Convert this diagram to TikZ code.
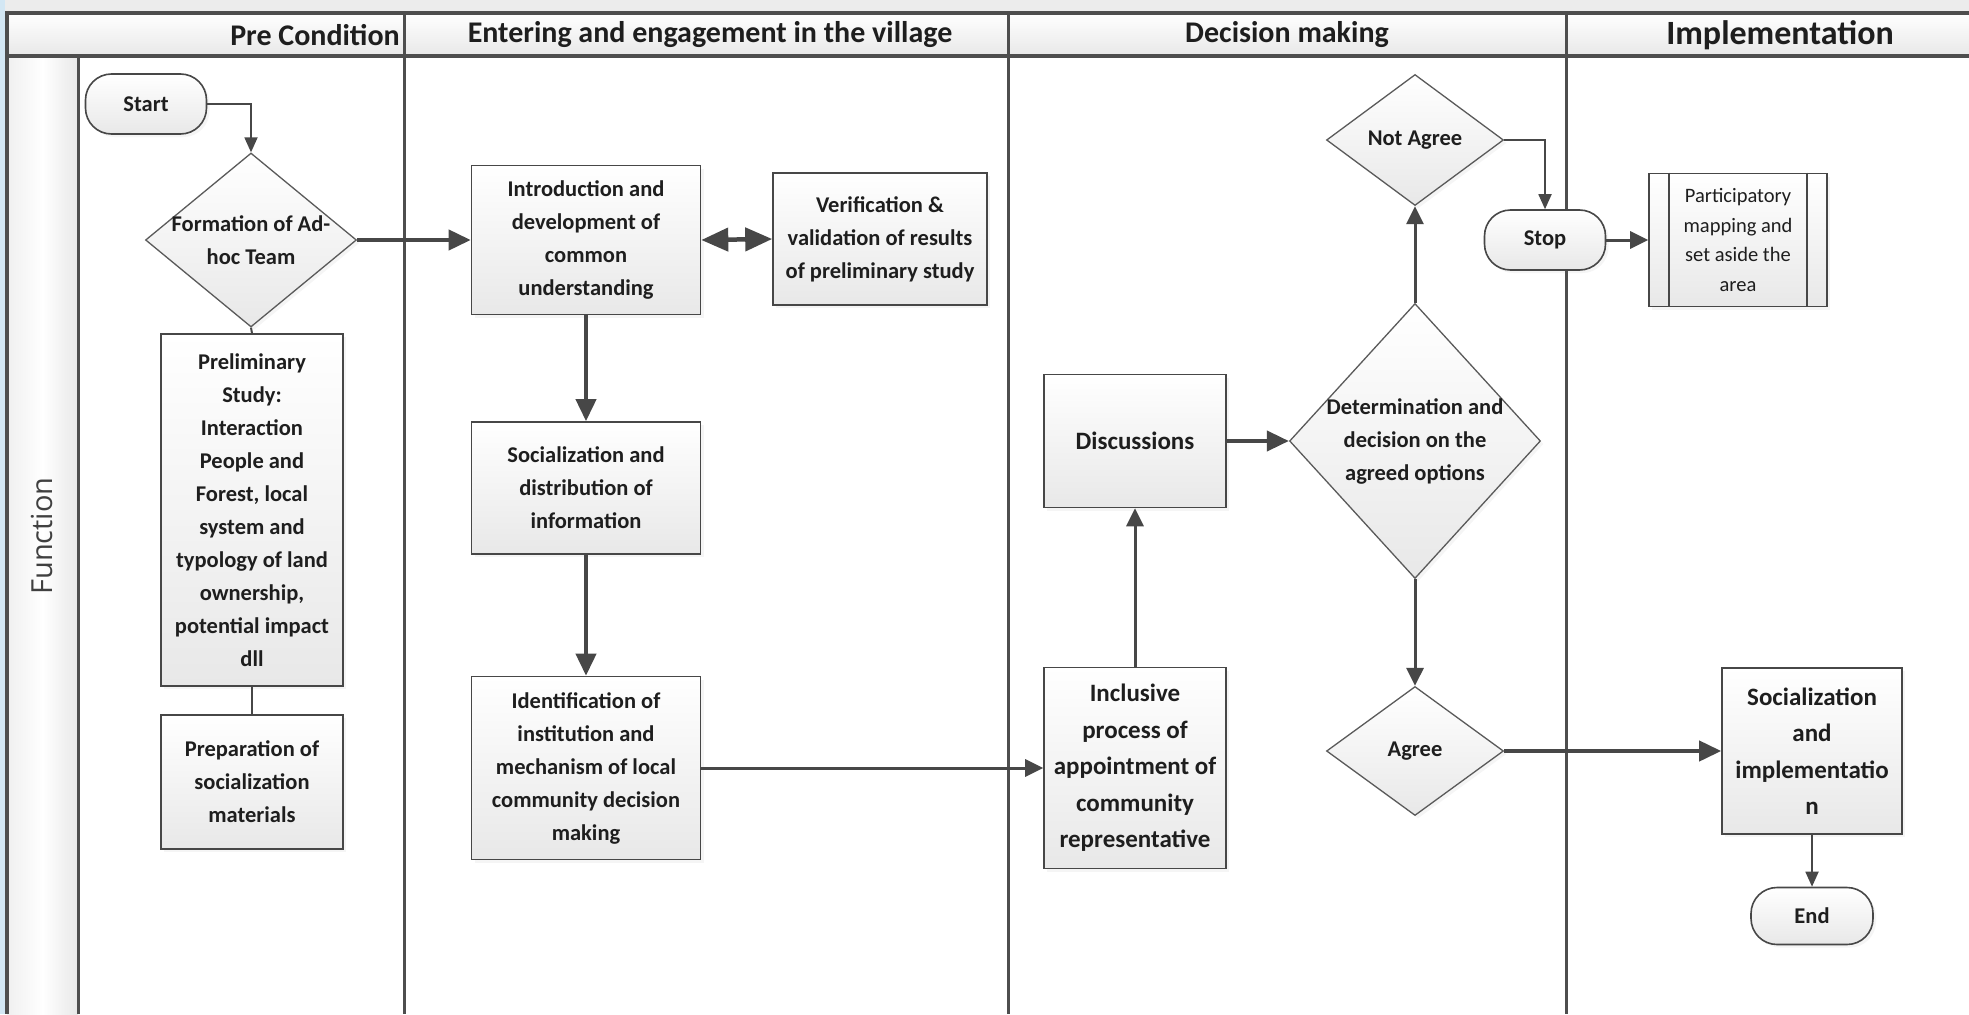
\documentclass[tikz,border=0pt]{standalone}
\usepackage{fontspec}
\setmainfont{Carlito}
\newfontfamily\lanefont{Open Sans}
\usetikzlibrary{shapes.geometric,arrows.meta,shadows}

\definecolor{ink}{HTML}{1E1E1E}
\definecolor{edge}{HTML}{474747}
\definecolor{dedge}{HTML}{5A5A5A}
\definecolor{lane}{HTML}{4E4E4E}
\definecolor{fillb}{HTML}{E8E8E8}
\definecolor{band}{HTML}{ECECEC}
\definecolor{strip}{HTML}{D3E7F4}

\tikzset{
  x=1pt, y=-1pt,
  txt/.style={font=\fontsize{22.5}{33}\selectfont\bfseries, text=ink, align=center},
  txtb/.style={font=\fontsize{25}{36.5}\selectfont\bfseries, text=ink, align=center},
  txtr/.style={font=\fontsize{20.5}{29.5}\selectfont, text=ink, align=center},
  hdr/.style={font=\fontsize{30}{34}\selectfont\bfseries, text=ink, inner sep=0pt},
  hdrbig/.style={font=\fontsize{34}{38}\selectfont\bfseries, text=ink, inner sep=0pt},
  shapebase/.style={draw=edge, line width=1.6pt, top color=white, bottom color=fillb,
    inner sep=0pt,
    drop shadow={shadow xshift=3pt, shadow yshift=-3pt, opacity=0.08}},
  stepbox/.style={shapebase, rectangle},
  term/.style={shapebase, rectangle, rounded corners=26pt},
  decision/.style={shapebase, diamond, draw=dedge, line width=1.3pt},
  flow/.style={draw=edge, line width=4pt, -{Triangle[length=22pt,width=20pt]}},
  flowthin/.style={draw=edge, line width=1.8pt, -{Triangle[length=15pt,width=13pt]}},
  flowmid/.style={draw=edge, line width=3pt, -{Triangle[length=18pt,width=17pt]}},
  link/.style={draw=edge, line width=2pt},
  twoway/.style={draw=edge, line width=4.5pt,
    {Triangle[length=27pt,width=23pt]}-{Triangle[length=27pt,width=23pt]}},
  laneline/.style={draw=lane, line width=3pt},
  frameline/.style={draw=lane, line width=4pt},
}

\begin{document}
\begin{tikzpicture}
\useasboundingbox (0,0) rectangle (1969,1014);
\clip (0,0) rectangle (1969,1014);

% pool background, header band and lane label column
\fill[white] (0,0) rectangle (1969,1014);
\fill[band] (0,0) rectangle (1969,13);
\fill[strip] (0,0) rectangle (5,1014);
\shade[top color=white, bottom color=black!9] (7,13) rectangle (1969,56);
\shade[left color=black!6, right color=black!9, middle color=white] (7,56) rectangle (78,1014);

% pool borders and phase separators
\draw[frameline] (5,13) -- (1969,13);
\draw[frameline] (7,56) -- (1969,56);
\draw[frameline] (7,11) -- (7,1014);
\draw[laneline] (78,56) -- (78,1014);
\draw[laneline] (404,13) -- (404,1014);
\draw[laneline] (1008,13) -- (1008,1014);
\draw[laneline] (1566,13) -- (1566,1014);

% phase titles
\node[hdr, anchor=east] (hpre) at (400,35) {Pre Condition};
\node[hdr] (hent) at (710,35) {Entering and engagement in the village};
\node[hdr] (hdec) at (1287,35) {Decision making};
\node[hdrbig] (himp) at (1780,35) {Implementation};

% lane title
\node[font=\lanefont\fontsize{29}{32}\selectfont, text=black!75, rotate=90] (fn) at (42,536) {Function};

% --- Pre Condition ---
\node[term, minimum width=121pt, minimum height=60pt, txt] (start) at (146,104) {Start};
\node[decision, minimum width=211pt, minimum height=174pt] (form) at (251,240) {};
\node[txt] (formtxt) at (form.center) {Formation of Ad-\\hoc Team};
\node[stepbox, minimum width=182pt, minimum height=352pt, txt] (prelim) at (252,510)
  {Preliminary\\Study:\\Interaction\\People and\\Forest, local\\system and\\typology of land\\ownership,\\potential impact\\dll};
\node[stepbox, minimum width=182pt, minimum height=134pt, txt] (prep) at (252,782)
  {Preparation of\\socialization\\materials};

% --- Entering and engagement ---
\node[stepbox, minimum width=229pt, minimum height=149pt, txt] (intro) at (586,240)
  {Introduction and\\development of\\common\\understanding};
\node[stepbox, minimum width=214pt, minimum height=132pt, txt] (verif) at (880,239)
  {Verification \&\\validation of results\\of preliminary study};
\node[stepbox, minimum width=229pt, minimum height=132pt, txt] (soc) at (586,488)
  {Socialization and\\distribution of\\information};
\node[stepbox, minimum width=229pt, minimum height=183pt, txt] (ident) at (586,768)
  {Identification of\\institution and\\mechanism of local\\community decision\\making};

% --- Decision making ---
\node[stepbox, minimum width=182pt, minimum height=201pt, txtb] (incl) at (1135,768)
  {Inclusive\\process of\\appointment of\\community\\representative};
\node[stepbox, minimum width=182pt, minimum height=133pt, txtb] (disc) at (1135,441) {Discussions};
\node[decision, minimum width=251pt, minimum height=275pt] (det) at (1415,441) {};
\node[txt] (dettxt) at (det.center) {Determination and\\decision on the\\agreed options};
\node[decision, minimum width=177pt, minimum height=131pt] (nagree) at (1415,140) {};
\node[txt] (nagreetxt) at (nagree.center) {Not Agree};
\node[decision, minimum width=177pt, minimum height=129pt] (agree) at (1415,751) {};
\node[txt] (agreetxt) at (agree.center) {Agree};
\node[term, minimum width=121pt, minimum height=60pt, txt] (stop) at (1545,240) {Stop};

% --- Implementation ---
\node[stepbox, minimum width=178pt, minimum height=133pt, txtr] (part) at (1738,240)
  {Participatory\\mapping and\\set aside the\\area};
\draw[draw=edge, line width=1.6pt] ([xshift=21pt]part.north west) -- ([xshift=21pt]part.south west);
\draw[draw=edge, line width=1.6pt] ([xshift=-21pt]part.north east) -- ([xshift=-21pt]part.south east);
\node[stepbox, minimum width=180pt, minimum height=166pt, txtb] (socimpl) at (1812,751)
  {Socialization\\and\\implementatio\\n};
\node[term, minimum width=122pt, minimum height=57pt, txt] (end) at (1812,916) {End};

% connectors
\draw[flowthin] (start.east) -| (form.north);
\draw[link] (form.south) -- (prelim.north);
\draw[link] (prelim.south) -- (prep.north);
\draw[flow] (form.east) -- (intro.west);
\draw[twoway] (intro.east) -- (verif.west);
\draw[flow] (intro.south) -- (soc.north);
\draw[flow] (soc.south) -- (ident.north);
\draw[flowmid] (ident.east) -- (incl.west);
\draw[flowmid] (incl.north) -- (disc.south);
\draw[flow] (disc.east) -- (det.west);
\draw[flowmid] (det.north) -- (nagree.south);
\draw[flowmid] (det.south) -- (agree.north);
\draw[flowthin] (nagree.east) -| (stop.north);
\draw[flowmid] (stop.east) -- (part.west);
\draw[flow] (agree.east) -- (socimpl.west);
\draw[flowthin] (socimpl.south) -- (end.north);
\end{tikzpicture}
\end{document}
